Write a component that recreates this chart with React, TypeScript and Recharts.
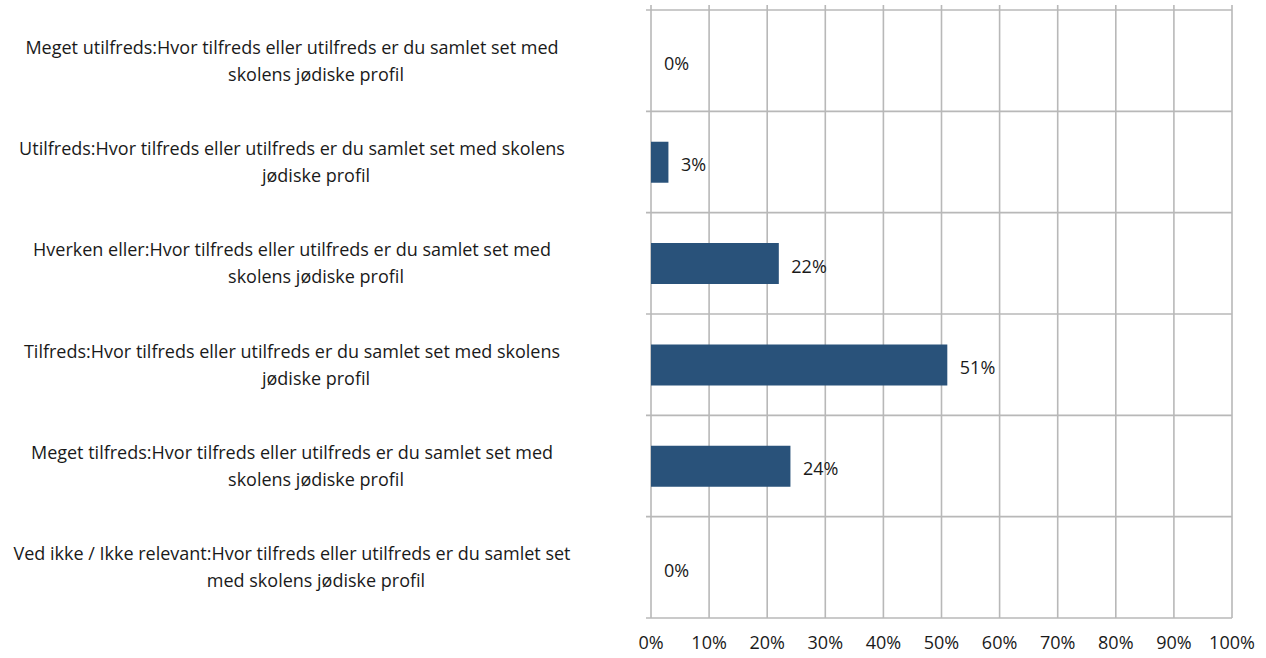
import React from "react";
import { BarChart, Bar, XAxis, YAxis, CartesianGrid, LabelList, Cell } from "recharts";

const categories: string[] = [
  "Meget utilfreds:Hvor tilfreds eller utilfreds er du samlet set med\nskolens jødiske profil",
  "Utilfreds:Hvor tilfreds eller utilfreds er du samlet set med skolens\njødiske profil",
  "Hverken eller:Hvor tilfreds eller utilfreds er du samlet set med\nskolens jødiske profil",
  "Tilfreds:Hvor tilfreds eller utilfreds er du samlet set med skolens\njødiske profil",
  "Meget tilfreds:Hvor tilfreds eller utilfreds er du samlet set med\nskolens jødiske profil",
  "Ved ikke / Ikke relevant:Hvor tilfreds eller utilfreds er du samlet set\nmed skolens jødiske profil",
];
const values: number[] = [0, 0.03, 0.22, 0.51, 0.24, 0];
const xTicks: number[] = [0, 0.1, 0.2, 0.3, 0.4, 0.5, 0.6, 0.7, 0.8, 0.9, 1];

const data = categories.map((c, i) => ({ name: c, value: values[i] }));

const FONT = "'Open Sans', 'Noto Sans', sans-serif";
const TEXT = "#1a1a1a";
const GRID = "#b8b8b8";
const BAR = "#29527a";

const pct = (v: any) => `${Math.round(Number(v) * 100)}%`;

const YTick = (props: any) => {
  const { y, payload } = props;
  const lines = String(payload.value).split("\n");
  const cx = 292;
  return (
    <g>
      {lines.map((l: string, i: number) => (
        <text
          key={i}
          x={cx + (i === 0 ? 0 : 24)}
          y={y + (i - (lines.length - 1) / 2) * 27}
          dy="0.36em"
          textAnchor="middle"
          fontFamily={FONT}
          fontSize={18}
          fill={TEXT}
        >
          {l}
        </text>
      ))}
    </g>
  );
};

const BarLabel = (p: any) => {
  const { x, y, width, height, value } = p;
  return (
    <text
      x={Number(x) + Math.max(0, Number(width || 0) - 0.5) + 13}
      y={Number(y) + Number(height) / 2}
      dy="0.5em"
      textAnchor="start"
      fontFamily={FONT}
      fontSize={18}
      fill={TEXT}
    >
      {pct(value)}
    </text>
  );
};

const HLine = (p: any) => (
  <line x1={p.x1 - 5} x2={p.x2} y1={p.y1} y2={p.y2} stroke={GRID} strokeWidth={1.6} />
);
const VLine = (p: any) => (
  <line x1={p.x1} x2={p.x2} y1={p.y1 - 5} y2={p.y2} stroke={GRID} strokeWidth={1.6} />
);

export default function App() {
  return (
    <div style={{ position: "absolute", left: 0, top: 0, width: 1266, height: 658, background: "#fff" }}>
      <BarChart
        width={1266}
        height={658}
        data={data}
        layout="vertical"
        margin={{ top: 10, right: 34, bottom: 0, left: 0 }}
        barCategoryGap="30%"
      >
        <CartesianGrid
          horizontal={HLine}
          vertical={VLine}
          horizontalCoordinatesGenerator={({ offset }: any) =>
            categories.map((_, i) => offset.top + (i * offset.height) / categories.length).concat(offset.top + offset.height)
          }
        />
        <XAxis
          type="number"
          domain={[0, 1]}
          ticks={xTicks}
          tickFormatter={pct}
          axisLine={false}
          tickLine={false}
          tickSize={0}
          tickMargin={18}
          height={40}
          tick={{ fontFamily: FONT, fontSize: 18, fill: TEXT }}
          interval={0}
        />
        <YAxis
          type="category"
          dataKey="name"
          width={651}
          axisLine={false}
          tickLine={false}
          tick={<YTick />}
          interval={0}
        />
        <Bar dataKey="value" fill={BAR} isAnimationActive={false} minPointSize={0.5}>
          {data.map((d, i) => (
            <Cell key={i} fill={d.value > 0 ? BAR : "none"} />
          ))}
          <LabelList dataKey="value" content={<BarLabel />} />
        </Bar>
      </BarChart>
    </div>
  );
}
